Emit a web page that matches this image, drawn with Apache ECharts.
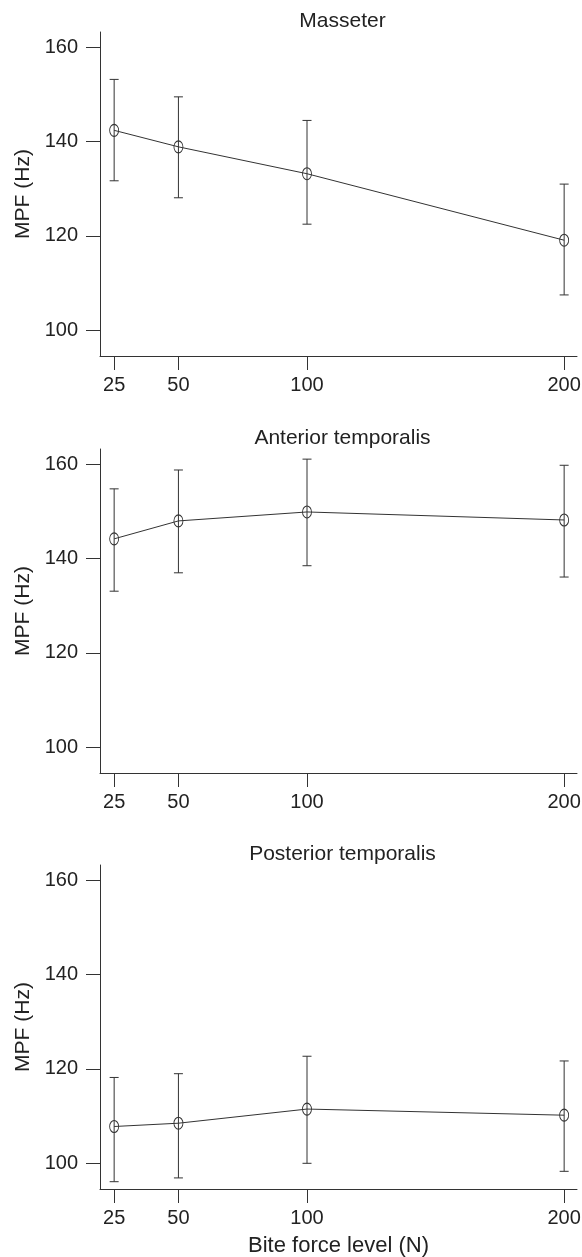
<!DOCTYPE html>
<html>
<head>
<meta charset="utf-8">
<script src="https://cdn.jsdelivr.net/npm/echarts@6/dist/echarts.min.js"></script>
<style>
html,body{margin:0;padding:0;background:#fff;}
#chart{width:582px;height:1257px;}
</style>
</head>
<body>
<div id="chart"></div>
<script>
// ---- data ----
const biteForce = [25, 50, 100, 200];
const yTicks = [100, 120, 140, 160];
const panelTitles = ['Masseter', 'Anterior temporalis', 'Posterior temporalis'];

const masseterMean  = [142.4, 138.9, 133.2, 119.1];
const masseterUpper = [153.2, 149.5, 144.5, 131.0];
const masseterLower = [131.7, 128.1, 122.5, 107.5];

const anteriorMean  = [144.2, 148.0, 149.9, 148.2];
const anteriorUpper = [154.8, 158.8, 161.1, 159.8];
const anteriorLower = [133.1, 137.0, 138.5, 136.1];

const posteriorMean  = [107.8, 108.5, 111.5, 110.2];
const posteriorUpper = [118.2, 119.0, 122.7, 121.7];
const posteriorLower = [96.1, 96.9, 100.0, 98.3];

const yAxisName = 'MPF (Hz)';
const xAxisName = 'Bite force level (N)';

// ---- layout ----
const FONT = 'Liberation Sans, Arial, Helvetica, sans-serif';
const TEXT = '#222';
const LINE = '#333';
const gridTops = [32, 449, 865];
const gridH = 324;
const gridLeft = 100;
const gridW = 477;

const panels = [
  {mean: masseterMean, up: masseterUpper, lo: masseterLower},
  {mean: anteriorMean, up: anteriorUpper, lo: anteriorLower},
  {mean: posteriorMean, up: posteriorUpper, lo: posteriorLower}
];

const grids = [], xAxes = [], yAxes = [], series = [], titles = [];
panels.forEach((p, i) => {
  grids.push({left: gridLeft, top: gridTops[i], width: gridW, height: gridH,
    containLabel: false, outerBoundsMode: 'none'});
  titles.push({
    text: panelTitles[i], left: gridLeft + gridW / 2 - 1, top: gridTops[i] - 26,
    textAlign: 'center',
    textStyle: {fontFamily: FONT, fontSize: 21, fontWeight: 'normal', color: TEXT}
  });
  xAxes.push({
    type: 'value', gridIndex: i, min: 19.5, max: 205,
    name: i === 2 ? xAxisName : '', nameLocation: 'middle', nameGap: 46,
    nameTextStyle: {fontFamily: FONT, fontSize: 22, color: TEXT},
    axisLine: {show: true, lineStyle: {color: LINE, width: 1}},
    axisTick: {show: true, length: 14, inside: false, customValues: biteForce, lineStyle: {color: LINE, width: 1}},
    axisLabel: {show: true, customValues: biteForce, margin: 19, fontFamily: FONT, fontSize: 20, color: TEXT},
    splitLine: {show: false}
  });
  yAxes.push({
    type: 'value', gridIndex: i, min: 94.55, max: 163.25,
    name: yAxisName, nameLocation: 'middle', nameGap: 66, nameRotate: 90,
    nameTextStyle: {fontFamily: FONT, fontSize: 21, color: TEXT},
    axisLine: {show: true, onZero: false, lineStyle: {color: LINE, width: 1}},
    axisTick: {show: true, length: 14, inside: false, customValues: yTicks, lineStyle: {color: LINE, width: 1}},
    axisLabel: {show: true, customValues: yTicks, margin: 22, fontFamily: FONT, fontSize: 20, color: TEXT},
    splitLine: {show: false}
  });
  const errData = biteForce.map((x, k) => [x, p.lo[k], p.up[k]]);
  series.push({
    type: 'custom', xAxisIndex: i, yAxisIndex: i, data: errData, silent: true,
    renderItem: function (params, api) {
      const x = api.value(0);
      const lo = api.coord([x, api.value(1)]);
      const hi = api.coord([x, api.value(2)]);
      const hw = 4.5;
      const st = {stroke: LINE, lineWidth: 1, fill: null};
      return {type: 'group', children: [
        {type: 'line', shape: {x1: lo[0], y1: lo[1], x2: hi[0], y2: hi[1]}, style: st},
        {type: 'line', shape: {x1: lo[0] - hw, y1: lo[1], x2: lo[0] + hw, y2: lo[1]}, style: st},
        {type: 'line', shape: {x1: hi[0] - hw, y1: hi[1], x2: hi[0] + hw, y2: hi[1]}, style: st}
      ]};
    },
    z: 2
  });
  series.push({
    type: 'line', xAxisIndex: i, yAxisIndex: i,
    data: biteForce.map((x, k) => [x, p.mean[k]]),
    symbol: 'circle', symbolSize: [9, 12], showSymbol: true,
    lineStyle: {color: LINE, width: 1},
    itemStyle: {color: 'rgba(255,255,255,0)', borderColor: LINE, borderWidth: 1},
    silent: true, animation: false, z: 3
  });
});

const chart = echarts.init(document.getElementById('chart'), null, {renderer: 'canvas'});
chart.setOption({
  backgroundColor: '#fff',
  animation: false,
  title: titles,
  grid: grids,
  xAxis: xAxes,
  yAxis: yAxes,
  series: series
});
</script>
</body>
</html>
